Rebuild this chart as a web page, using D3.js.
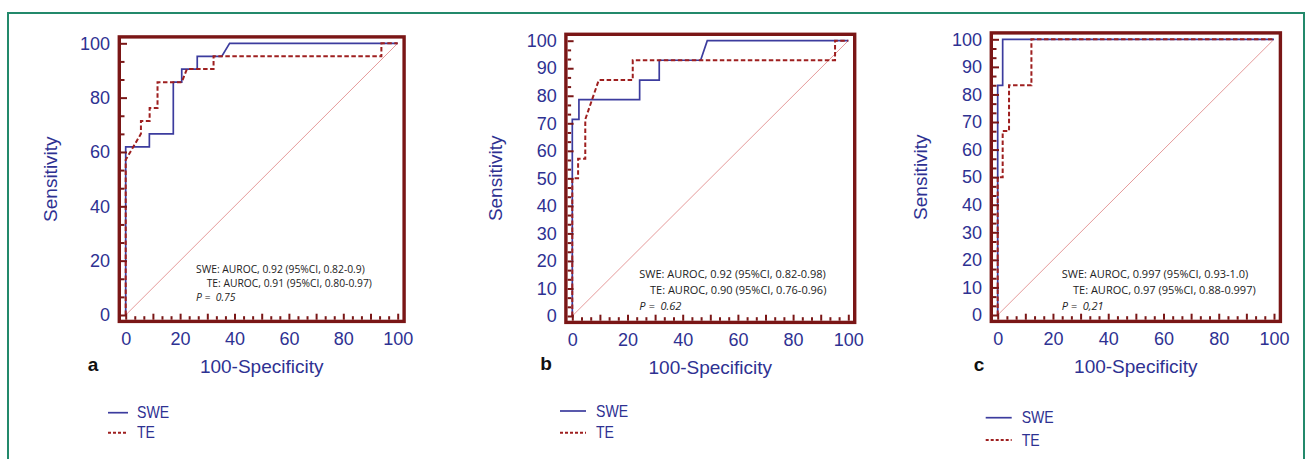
<!DOCTYPE html>
<html>
<head>
<meta charset="utf-8">
<script src="https://cdn.jsdelivr.net/npm/d3@7"></script>
<style>
  html, body { margin: 0; padding: 0; background: #fff; }
  svg { display: block; }
  text { white-space: pre; }
</style>
</head>
<body>
<svg id="chart" width="1311" height="459"></svg>
<script>
// ---------- data ----------
const panelLetters = ["a", "b", "c"];
const xTickLabels = [0, 20, 40, 60, 80, 100];
const yTickLabelsA = [0, 20, 40, 60, 80, 100];
const yTickLabelsBC = [0, 10, 20, 30, 40, 50, 60, 70, 80, 90, 100];
const seriesNames = ["SWE", "TE"];

const sweA_fpr = [0, 0, 8.7, 8.7, 17.5, 17.5, 20.6, 20.6, 26.3, 26.3, 35.3, 38.2, 100];
const sweA_tpr = [0, 61.9, 61.9, 66.7, 66.7, 85.7, 85.7, 90.5, 90.5, 95.2, 95.2, 100, 100];
const teA_fpr = [0, 0, 5.6, 5.6, 8.8, 8.8, 11.7, 11.7, 20.6, 22.5, 32.3, 32.3, 94, 94, 100];
const teA_tpr = [0, 57.1, 66.7, 71.4, 71.4, 76.2, 76.2, 85.7, 85.7, 90.5, 90.5, 95.2, 95.2, 100, 100];

const sweB_fpr = [0, 0, 2.4, 2.4, 24.4, 24.4, 31.5, 31.5, 46.5, 48.9, 100];
const sweB_tpr = [0, 71.4, 71.4, 78.6, 78.6, 85.7, 85.7, 92.9, 92.9, 100, 100];
const teB_fpr = [0, 0, 2.1, 2.1, 4.7, 4.7, 9.6, 21.9, 21.9, 95.2, 95.2, 100];
const teB_tpr = [0, 50, 50, 57.1, 57.1, 71.4, 85.7, 85.7, 92.9, 92.9, 100, 100];

const sweC_fpr = [0, 0, 1.8, 1.8, 100];
const sweC_tpr = [0, 83.3, 83.3, 100, 100];
const teC_fpr = [0, 0, 1.8, 1.8, 4.1, 4.1, 12.2, 12.2, 100];
const teC_tpr = [0, 50, 50, 66.7, 66.7, 83.3, 83.3, 100, 100];

const annotA = ["SWE: AUROC, 0.92 (95%CI, 0.82-0.9)", "TE: AUROC, 0.91 (95%CI, 0.80-0.97)", "P =  0.75"];
const annotB = ["SWE: AUROC, 0.92 (95%CI, 0.82-0.98)", "TE: AUROC, 0.90 (95%CI, 0.76-0.96)", "P =  0.62"];
const annotC = ["SWE: AUROC, 0.997 (95%CI, 0.93-1.0)", "TE: AUROC, 0.97 (95%CI, 0.88-0.997)", "P =  0,21"];

// ---------- styles ----------
const NAVY = "#2e3192";
const FRAME = "#7a1616";
const RED = "#9e1f1f";
const BLUE = "#3c3c9e";
const DIAG = "#e59a9a";
const GREEN = "#23896b";
const SANS = "'Liberation Sans', Arial, sans-serif";
const ANNOT_FONT = "'Open Sans', 'Liberation Sans', sans-serif";

const svg = d3.select("#chart");

// outer green frame
svg.append("rect")
  .attr("x", 8).attr("y", 13).attr("width", 1296).attr("height", 480)
  .attr("fill", "none").attr("stroke", GREEN).attr("stroke-width", 2);

const zip = (a, b) => a.map((v, i) => [v, b[i]]);

const panels = [
  { letter: panelLetters[0], xr: [125.7, 397.7], yr: [315, 43.3], yLabels: yTickLabelsA, yMinorStep: 20 / 3, yMajorStep: 20,
    swe: zip(sweA_fpr, sweA_tpr), te: zip(teA_fpr, teA_tpr), annot: annotA,
    annotX: [196, 206.7, 196], annotY: [272.7, 287.3, 301], annotSize: 10.3,
    yTitleX: 50, letterPos: [93, 371], legendX: [108, 128, 137], legendY: [412.7, 432.7] },
  { letter: panelLetters[1], xr: [572.3, 848.3], yr: [316, 40.7], yLabels: yTickLabelsBC, yMinorStep: 10 / 3, yMajorStep: 10,
    swe: zip(sweB_fpr, sweB_tpr), te: zip(teB_fpr, teB_tpr), annot: annotB,
    annotX: [639.3, 650, 639.3], annotY: [278.3, 294, 310], annotSize: 11,
    yTitleX: 495, letterPos: [546, 370], legendX: [560, 586, 596], legendY: [411, 432.7] },
  { letter: panelLetters[2], xr: [997.7, 1274], yr: [315, 39.3], yLabels: yTickLabelsBC, yMinorStep: 10 / 3, yMajorStep: 10,
    swe: zip(sweC_fpr, sweC_tpr), te: zip(teC_fpr, teC_tpr), annot: annotC,
    annotX: [1061.7, 1073, 1061.7], annotY: [278.3, 294, 310], annotSize: 11,
    yTitleX: 920, letterPos: [979, 371], legendX: [985.7, 1011.7, 1021.7], legendY: [417.7, 440] }
];

const PAD = 6.4;
const FW = 3.4;

panels.forEach(p => {
  const x = d3.scaleLinear().domain([0, 100]).range(p.xr);
  const y = d3.scaleLinear().domain([0, 100]).range(p.yr);
  const g = svg.append("g");

  const fl = p.xr[0] - PAD, fr = p.xr[1] + PAD, ft = p.yr[1] - PAD, fb = p.yr[0] + PAD;

  // diagonal reference
  g.append("path")
    .attr("d", d3.line().x(d => x(d[0])).y(d => y(d[1]))([[0, 0], [100, 100]]))
    .attr("stroke", DIAG).attr("stroke-width", 1).attr("fill", "none");

  // curves
  const line = d3.line().x(d => x(d[0])).y(d => y(d[1]));
  g.append("path").attr("d", line(p.swe))
    .attr("fill", "none").attr("stroke", BLUE).attr("stroke-width", 1.7);
  g.append("path").attr("d", line(p.te))
    .attr("fill", "none").attr("stroke", RED).attr("stroke-width", 2)
    .attr("stroke-dasharray", "4.5,2.5");

  // inner tick marks (x: bottom frame, pointing up)
  const xMinor = d3.range(0, 100.01, 10 / 3).filter(v => Math.abs(v / 10 - Math.round(v / 10)) > 0.01);
  const xMajor = d3.range(0, 100.01, 10);
  const yMinorAll = d3.range(0, 100.01, p.yMinorStep);
  const yMinor = yMinorAll.filter(v => Math.abs(v / p.yMajorStep - Math.round(v / p.yMajorStep)) > 0.01);
  const yMajor = d3.range(0, 100.01, p.yMajorStep);

  const styleTicks = sel => {
    sel.select(".domain").remove();
    sel.selectAll("line").attr("stroke", FRAME).attr("stroke-width", 2);
    sel.selectAll("text").remove();
  };
  g.append("g").attr("transform", `translate(0,${fb - FW / 2})`)
    .call(d3.axisTop(x).tickValues(xMinor).tickSize(3.5)).call(styleTicks);
  g.append("g").attr("transform", `translate(0,${fb - FW / 2})`)
    .call(d3.axisTop(x).tickValues(xMajor).tickSize(6)).call(styleTicks);
  g.append("g").attr("transform", `translate(${fl + FW / 2},0)`)
    .call(d3.axisRight(y).tickValues(yMinor).tickSize(3.5)).call(styleTicks);
  g.append("g").attr("transform", `translate(${fl + FW / 2},0)`)
    .call(d3.axisRight(y).tickValues(yMajor).tickSize(6)).call(styleTicks);

  // frame
  g.append("rect")
    .attr("x", fl).attr("y", ft).attr("width", fr - fl).attr("height", fb - ft)
    .attr("fill", "none").attr("stroke", FRAME).attr("stroke-width", FW);

  // tick labels
  const xl = g.append("g").attr("transform", `translate(0,${fb + 10.5})`)
    .call(d3.axisBottom(x).tickValues(xTickLabels).tickSize(0).tickPadding(0));
  xl.select(".domain").remove();
  xl.selectAll("text").attr("font-family", SANS).attr("font-size", 18).attr("fill", NAVY);

  const yl = g.append("g").attr("transform", `translate(${fl - FW / 2 - 7.5},0)`)
    .call(d3.axisLeft(y).tickValues(p.yLabels).tickSize(0).tickPadding(0));
  yl.select(".domain").remove();
  yl.selectAll("text").attr("font-family", SANS).attr("font-size", 18).attr("fill", NAVY);

  // axis titles
  g.append("text")
    .attr("x", (p.xr[0] + p.xr[1]) / 2).attr("y", fb + 52)
    .attr("text-anchor", "middle").attr("font-family", SANS).attr("font-size", 19).attr("fill", NAVY)
    .text("100-Specificity");
  g.append("text")
    .attr("transform", `translate(${p.yTitleX + 6.5},${(p.yr[0] + p.yr[1]) / 2}) rotate(-90)`)
    .attr("text-anchor", "middle").attr("font-family", SANS).attr("font-size", 19).attr("fill", NAVY)
    .text("Sensitivity");

  // panel letter
  g.append("text")
    .attr("x", p.letterPos[0]).attr("y", p.letterPos[1])
    .attr("text-anchor", "middle").attr("font-family", SANS).attr("font-weight", "bold")
    .attr("font-size", 19).attr("fill", "#111")
    .text(p.letter);

  // annotation
  p.annot.forEach((t, i) => {
    g.append("text")
      .attr("x", p.annotX[i]).attr("y", p.annotY[i])
      .attr("font-family", ANNOT_FONT).attr("font-size", p.annotSize)
      .attr("font-style", i === 2 ? "italic" : "normal")
      .attr("fill", "#222")
      .text(t);
  });

  // legend
  seriesNames.forEach((name, i) => {
    const ly = p.legendY[i];
    g.append("line")
      .attr("x1", p.legendX[0]).attr("x2", p.legendX[1]).attr("y1", ly).attr("y2", ly)
      .attr("stroke", i === 0 ? BLUE : RED).attr("stroke-width", i === 0 ? 1.7 : 2)
      .attr("stroke-dasharray", i === 0 ? null : "3,2");
    g.append("text")
      .attr("x", p.legendX[2]).attr("y", ly).attr("dy", "0.36em")
      .attr("font-family", SANS).attr("font-size", 16).attr("fill", NAVY)
      .attr("transform", `translate(${p.legendX[2]},0) scale(0.88,1) translate(${-p.legendX[2]},0)`)
      .text(name);
  });
});
</script>
</body>
</html>
